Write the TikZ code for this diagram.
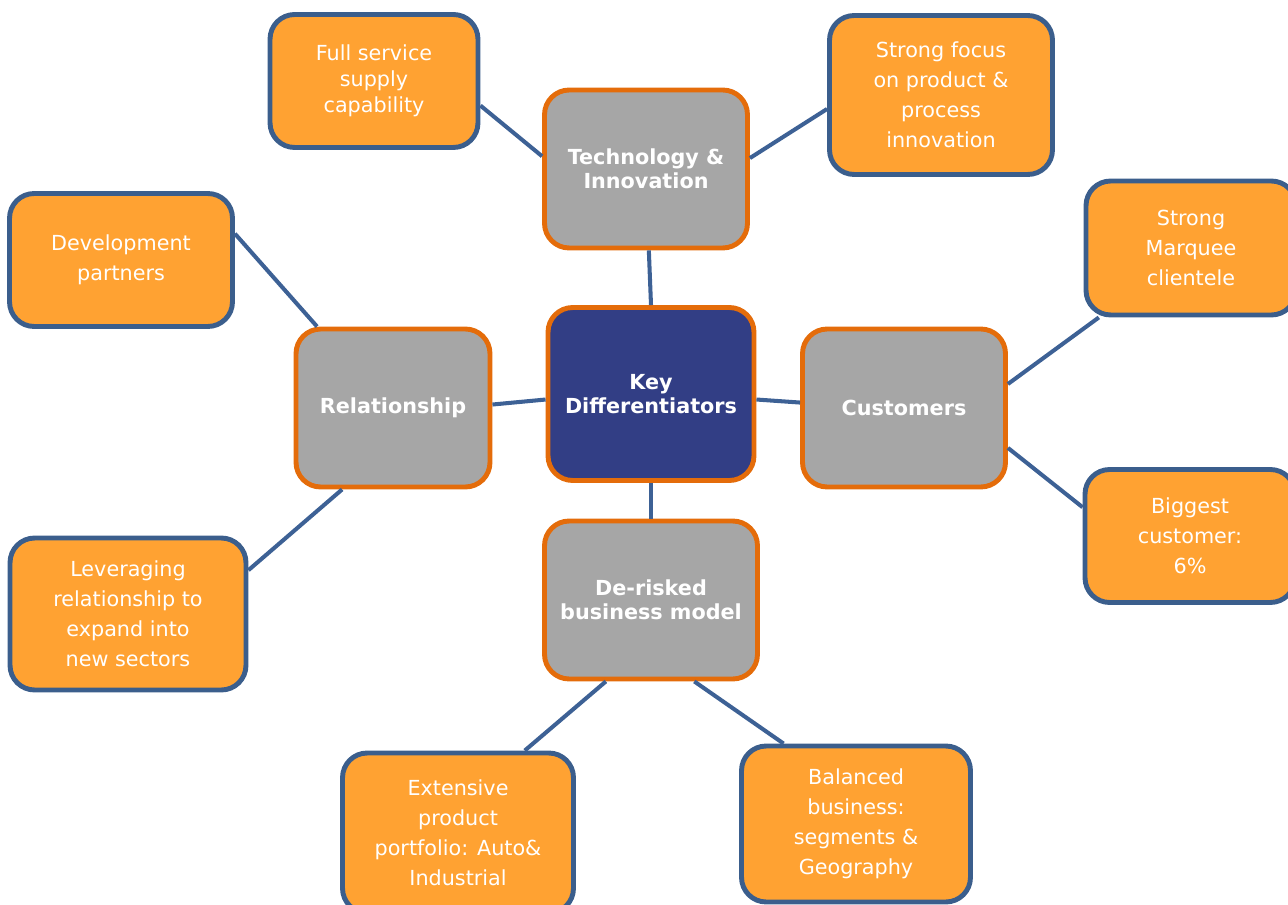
\documentclass[tikz,border=0pt]{standalone}
\usepackage{fontspec}
\setmainfont{DejaVu Sans}
\definecolor{leaffill}{RGB}{255,162,50}
\definecolor{leafedge}{RGB}{59,94,140}
\definecolor{hubfill}{RGB}{166,166,166}
\definecolor{hubedge}{RGB}{228,108,10}
\definecolor{corefill}{RGB}{50,62,133}
\definecolor{linkcol}{RGB}{61,97,149}
\tikzset{
  leaf/.style={draw=leafedge, fill=leaffill, line width=2.8pt, rounded corners=14pt,
    text=white, align=center, font=\fontsize{11.8}{17}\selectfont, inner sep=2pt},
  hub/.style={draw=hubedge, fill=hubfill, line width=2.8pt, rounded corners=14pt,
    text=white, align=center, font=\fontsize{11.8}{13.6}\selectfont\bfseries, inner sep=2pt},
  core/.style={hub, fill=corefill},
  link/.style={draw=linkcol, line width=2.3pt},
}
\begin{document}
\begin{tikzpicture}[x=0.02cm,y=-0.02cm]
\useasboundingbox (0,0) rectangle (1288,905);
% leaves
\node[leaf, minimum width=4.16cm, minimum height=2.66cm, font=\fontsize{11.8}{14.7}\selectfont] (full) at (374,81) {Full service\\supply\\capability};
\node[leaf, minimum width=4.46cm, minimum height=3.18cm] (focus) at (941,95) {Strong focus\\on product \&\\process\\innovation};
\node[leaf, minimum width=4.46cm, minimum height=2.66cm] (dev) at (121,260) {Development\\partners};
\node[leaf, minimum width=4.20cm, minimum height=2.68cm] (marq) at (1191,248) {Strong\\Marquee\\clientele};
\node[leaf, minimum width=4.20cm, minimum height=2.66cm] (big) at (1190,536) {Biggest\\customer:\\6\%};
\node[leaf, minimum width=4.72cm, minimum height=3.04cm] (lev) at (128,614) {Leveraging\\relationship to\\expand into\\new sectors};
\node[leaf, minimum width=4.62cm, minimum height=3.20cm] (ext) at (458,833) {Extensive\\product\\portfolio: Auto\&\\Industrial};
\node[leaf, minimum width=4.58cm, minimum height=3.12cm] (bal) at (856,824) {Balanced\\business:\\segments \&\\Geography};
% hubs
\node[hub, minimum width=4.06cm, minimum height=3.16cm] (tech) at (646,169) {Technology \&\\Innovation};
\node[hub, minimum width=3.88cm, minimum height=3.16cm] (rel) at (393,408) {Relationship};
\node[hub, minimum width=4.06cm, minimum height=3.16cm] (cust) at (904,408) {Customers};
\node[hub, minimum width=4.26cm, minimum height=3.16cm] (derisk) at (651,600) {De-risked\\business model};
\node[core, minimum width=4.12cm, minimum height=3.46cm] (key) at (651,394) {Key\\Differentiators};
% connectors
\draw[link] (full.-13) -- (tech.173);
\draw[link] (tech.6.5) -- (focus.-173.4);
\draw[link] (tech.-88) -- (key.90.7);
\draw[link] (dev.13.3) -- (rel.133.5);
\draw[link] (rel.2.9) -- (key.183.3);
\draw[link] (key.-3.3) -- (cust.177.2);
\draw[link] (cust.13.8) -- (marq.217.3);
\draw[link] (cust.-21.4) -- (big.165.4);
\draw[link] (rel.238.3) -- (lev.20.2);
\draw[link] (key.south) -- (derisk.north);
\draw[link] (derisk.241.4) -- (ext.51.9);
\draw[link] (derisk.-62) -- (bal.132.3);
\end{tikzpicture}
\end{document}
